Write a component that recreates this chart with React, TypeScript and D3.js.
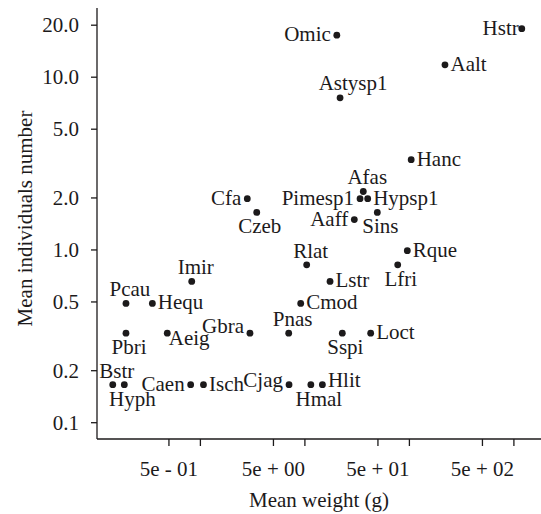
import React from 'react';
import * as d3 from 'd3';

// species codes, mean weight (g) and mean individuals number
const species = [
  'Omic', 'Hstr', 'Aalt', 'Astysp1', 'Hanc', 'Afas', 'Pimesp1', 'Hypsp1',
  'Cfa', 'Czeb', 'Aaff', 'Sins', 'Rlat', 'Rque', 'Lfri', 'Imir', 'Lstr',
  'Pcau', 'Hequ', 'Cmod', 'Pbri', 'Aeig', 'Gbra', 'Pnas', 'Sspi', 'Loct',
  'Bstr', 'Hyph', 'Caen', 'Isch', 'Cjag', 'Hmal', 'Hlit',
];
const meanWeight = [
  20.2, 1190, 219, 21.7, 104, 36.2, 33.7, 39.9,
  2.81, 3.46, 29.7, 49.3, 10.4, 95.5, 77.3, 0.826, 17.4,
  0.194, 0.347, 9.12, 0.194, 0.482, 2.98, 7.0, 22.8, 42.6,
  0.145, 0.187, 0.807, 1.07, 7.05, 11.4, 14.7,
];
const meanNumber = [
  17.5, 19.1, 11.8, 7.6, 3.33, 2.18, 1.98, 1.98,
  1.98, 1.65, 1.5, 1.65, 0.82, 0.99, 0.82, 0.657, 0.657,
  0.49, 0.49, 0.49, 0.33, 0.33, 0.33, 0.33, 0.33, 0.33,
  0.166, 0.166, 0.166, 0.166, 0.166, 0.166, 0.166,
];

// where each label sits relative to its point (R-style: 1 below, 2 left, 3 above, 4 right)
const labelSide = [
  2, 2, 4, 3, 4, 3, 2, 4,
  2, 1, 2, 1, 3, 4, 1, 3, 4,
  3, 4, 4, 1, 4, 2, 3, 1, 4,
  3, 1, 2, 4, 2, 1, 4,
];
// hand nudges of a few labels, as in the original figure
const nudge: Record<string, [number, number]> = {
  Astysp1: [9, -1],
  Hstr: [3, 0],
  Aeig: [-4, 6],
  Gbra: [0, -6],
  Cjag: [0, -4],
  Hlit: [0, -4],
  Hyph: [5, 0],
  Hmal: [5, 0],
};

const xTickValues = [0.5, 1, 5, 10, 50, 100, 500, 1000];
const xTickLabels: Record<number, string> = { 0.5: '5e - 01', 5: '5e + 00', 50: '5e + 01', 500: '5e + 02' };
const yTickValues = [0.1, 0.2, 0.5, 1, 2, 5, 10, 20];

const W = 541;
const H = 514;
const left = 97;
const right = 541;
const top = 8;
const bottom = 439;
const ink = '#1c1a1b';
const font = '"Liberation Serif", "Times New Roman", serif';
const fs = 21;

export default function App() {
  const x = d3.scaleLog().domain([1, 1000]).range([200.4, 513.9]);
  const y = d3.scaleLog().domain([0.1, 10]).range([422.7, 77.2]);
  const fmt = d3.format('.1f');

  const points = species.map((s, i) => ({
    name: s,
    cx: x(meanWeight[i]),
    cy: y(meanNumber[i]),
    side: labelSide[i],
  }));

  return (
    <svg width={W} height={H} style={{ position: 'absolute', left: 0, top: 0, background: '#fff' }}
      fontFamily={font} fontSize={fs} fill={ink}>
      <line x1={left} x2={left} y1={top} y2={bottom} stroke={ink} strokeWidth={1.3} />
      <line x1={left} x2={right} y1={bottom} y2={bottom} stroke={ink} strokeWidth={1.3} />

      {yTickValues.map(v => (
        <g key={'y' + v}>
          <line x1={left - 6} x2={left} y1={y(v)} y2={y(v)} stroke={ink} strokeWidth={1.3} />
          <text x={79} y={y(v) + 7} textAnchor="end">{fmt(v)}</text>
        </g>
      ))}
      {xTickValues.map(v => (
        <g key={'x' + v}>
          <line x1={x(v)} x2={x(v)} y1={bottom} y2={bottom + 7} stroke={ink} strokeWidth={1.3} />
          {xTickLabels[v] && <text x={x(v)} y={476} textAnchor="middle">{xTickLabels[v]}</text>}
        </g>
      ))}

      <text x={319} y={507} textAnchor="middle">Mean weight (g)</text>
      <text transform="translate(32,218.5) rotate(-90)" textAnchor="middle">Mean individuals number</text>

      {points.map(p => {
        const [ndx, ndy] = nudge[p.name] || [0, 0];
        let tx = p.cx, ty = p.cy, anchor = 'middle';
        if (p.side === 1) { tx += 3; ty += 21; }
        if (p.side === 3) { tx += 4; ty -= 7; }
        if (p.side === 2) { tx -= 6; ty += 6; anchor = 'end'; }
        if (p.side === 4) { tx += 5.5; ty += 6; anchor = 'start'; }
        return (
          <g key={p.name}>
            <circle cx={p.cx} cy={p.cy} r={3.4} fill={ink} />
            <text x={tx + ndx} y={ty + ndy} textAnchor={anchor}>{p.name}</text>
          </g>
        );
      })}
    </svg>
  );
}
